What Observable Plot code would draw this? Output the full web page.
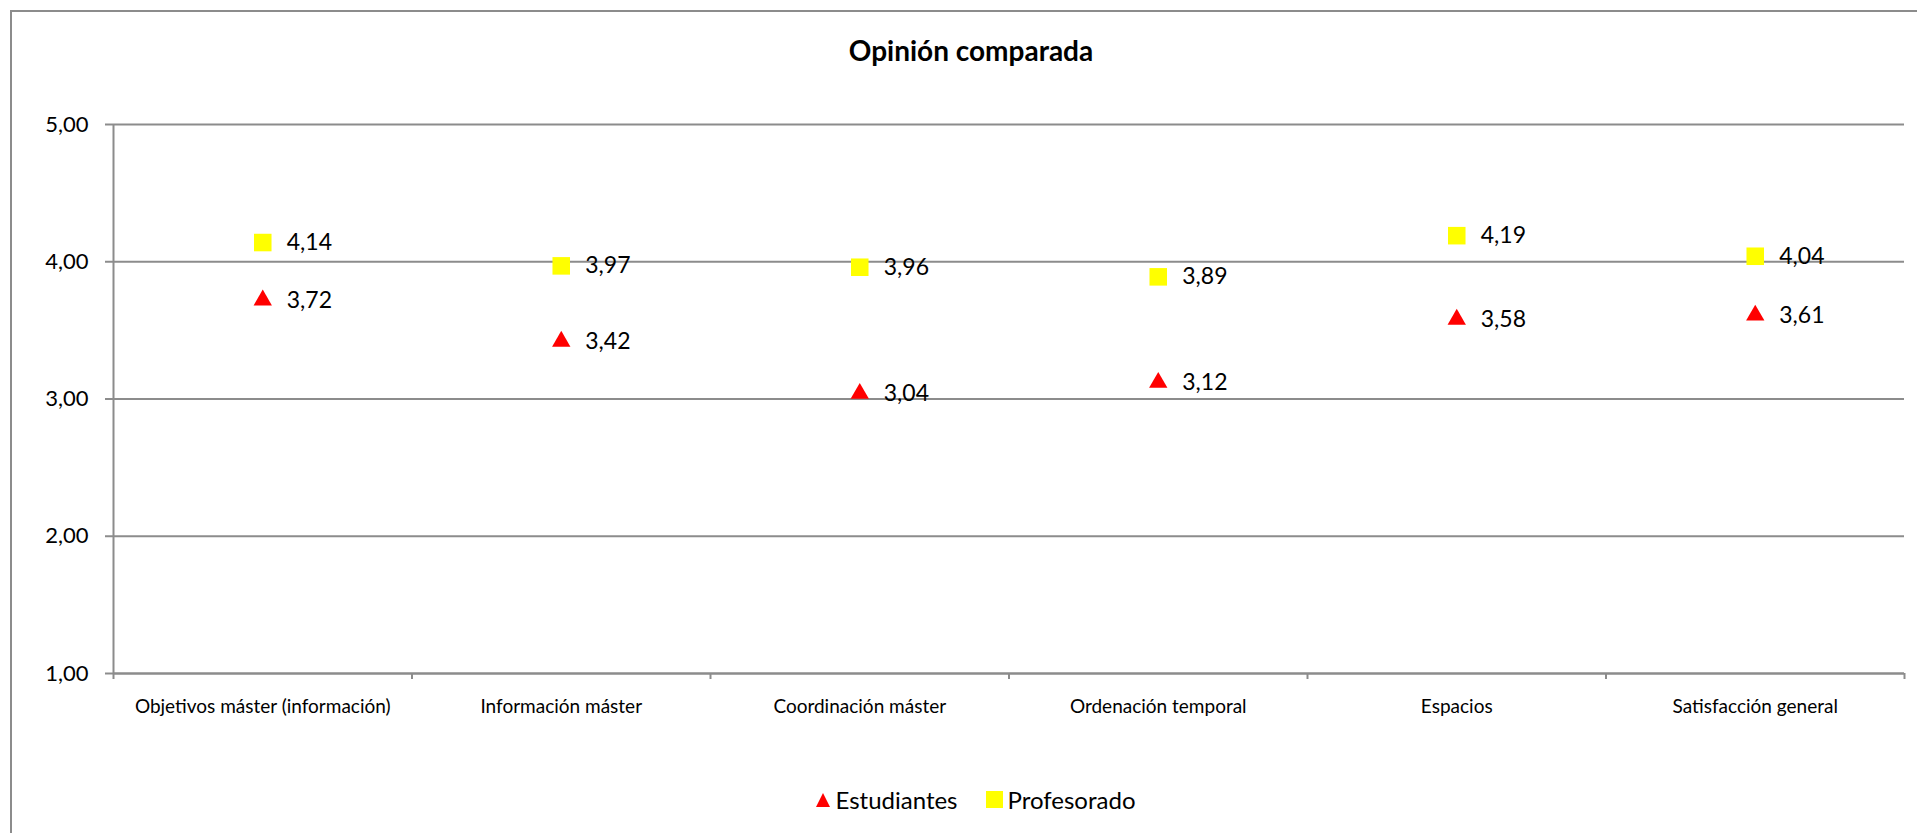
<!DOCTYPE html>
<html>
<head>
<meta charset="utf-8">
<script src="https://cdn.jsdelivr.net/npm/d3@7"></script>
<script src="https://cdn.jsdelivr.net/npm/@observablehq/plot@0.6"></script>
<style>
  html, body { margin: 0; padding: 0; background: #fff; overflow: hidden; }
  body { width: 1917px; height: 833px; position: relative; font-family: Lato, "Open Sans", sans-serif; }
  #frame { position: absolute; left: 10px; top: 10px; width: 2000px; height: 1000px; border: 2px solid #8c8c8c; box-sizing: border-box; }
  #title { position: absolute; left: 0; width: 1942px; top: 33px; text-align: center; font-weight: bold; font-size: 28px; line-height: 34px; color: #000; }
  #chart { position: absolute; left: 0; top: 0; }
  #legend { position: absolute; left: 0; top: 785px; width: 1950px; display: flex; justify-content: center; align-items: center; font-size: 24px; color: #000; }
  #legend .item { display: flex; align-items: center; margin: 0 14px; }
  #legend svg { margin-right: 5px; }
</style>
</head>
<body>
<div id="frame"></div>
<div id="title">Opinión comparada</div>
<div id="chart"></div>
<div id="legend"></div>
<script>
const categories = [
  "Objetivos máster (información)",
  "Información máster",
  "Coordinación máster",
  "Ordenación temporal",
  "Espacios",
  "Satisfacción general"
];
const estudiantes = [3.72, 3.42, 3.04, 3.12, 3.58, 3.61];
const profesorado = [4.14, 3.97, 3.96, 3.89, 4.19, 4.04];
const yTicks = [1, 2, 3, 4, 5];
const seriesNames = ["Estudiantes", "Profesorado"];
const seriesColors = ["#ff0000", "#ffff00"];

const fmt = v => v.toFixed(2).replace(".", ",");
const rows = [];
categories.forEach((c, i) => {
  rows.push({i: i + 0.5, cat: c, value: estudiantes[i], serie: seriesNames[0]});
  rows.push({i: i + 0.5, cat: c, value: profesorado[i], serie: seriesNames[1]});
});
const est = rows.filter(d => d.serie === seriesNames[0]);
const prof = rows.filter(d => d.serie === seriesNames[1]);
const gray = "#8c8c8c";
const boundaries = d3.range(categories.length + 1);
const centers = categories.map((c, i) => i + 0.5);

const chart = Plot.plot({
  width: 1917,
  height: 720,
  marginTop: 124,
  marginBottom: 47,
  marginLeft: 113,
  marginRight: 13,
  style: {fontFamily: "Lato, 'Open Sans', sans-serif", color: "#000", background: "transparent"},
  x: {domain: [0, categories.length], axis: null},
  y: {domain: [1, 5], axis: null},
  marks: [
    Plot.gridY(yTicks, {stroke: gray, strokeOpacity: 1, strokeWidth: 2}),
    Plot.ruleX([0], {stroke: gray, strokeWidth: 2}),
    Plot.ruleY([1], {stroke: gray, strokeWidth: 2}),
    Plot.axisY({ticks: yTicks, tickFormat: fmt, tickSize: 8, tickPadding: 17, fontSize: 22, stroke: gray, strokeWidth: 2, fill: "#000", label: null}),
    Plot.axisX({ticks: boundaries, tickFormat: () => "", tickSize: 6, stroke: gray, strokeWidth: 2, label: null}),
    Plot.axisX({ticks: centers, tickFormat: d => categories[Math.floor(d)], tickSize: 0, tickPadding: 26, fontSize: 19, fill: "#000", label: null}),
    Plot.dot(prof, {x: "i", y: "value", symbol: "square", r: 9.9, fill: seriesColors[1], stroke: null}),
    Plot.dot(est, {x: "i", y: "value", symbol: "triangle", r: 6.8, fill: seriesColors[0], stroke: null}),
    Plot.text(rows, {x: "i", y: "value", text: d => fmt(d.value), dx: 24, textAnchor: "start", fontSize: 23, fill: "#000"})
  ]
});
document.getElementById("chart").appendChild(chart);

const legend = document.getElementById("legend");
const shapes = [
  '<svg width="16" height="16"><polygon points="8,1 15,15 1,15" fill="#ff0000"/></svg>',
  '<svg width="17" height="17"><rect x="0" y="0" width="17" height="17" fill="#ffff00"/></svg>'
];
seriesNames.forEach((n, k) => {
  const item = document.createElement("div");
  item.className = "item";
  item.innerHTML = shapes[k] + "<span>" + n + "</span>";
  legend.appendChild(item);
});
</script>
</body>
</html>
